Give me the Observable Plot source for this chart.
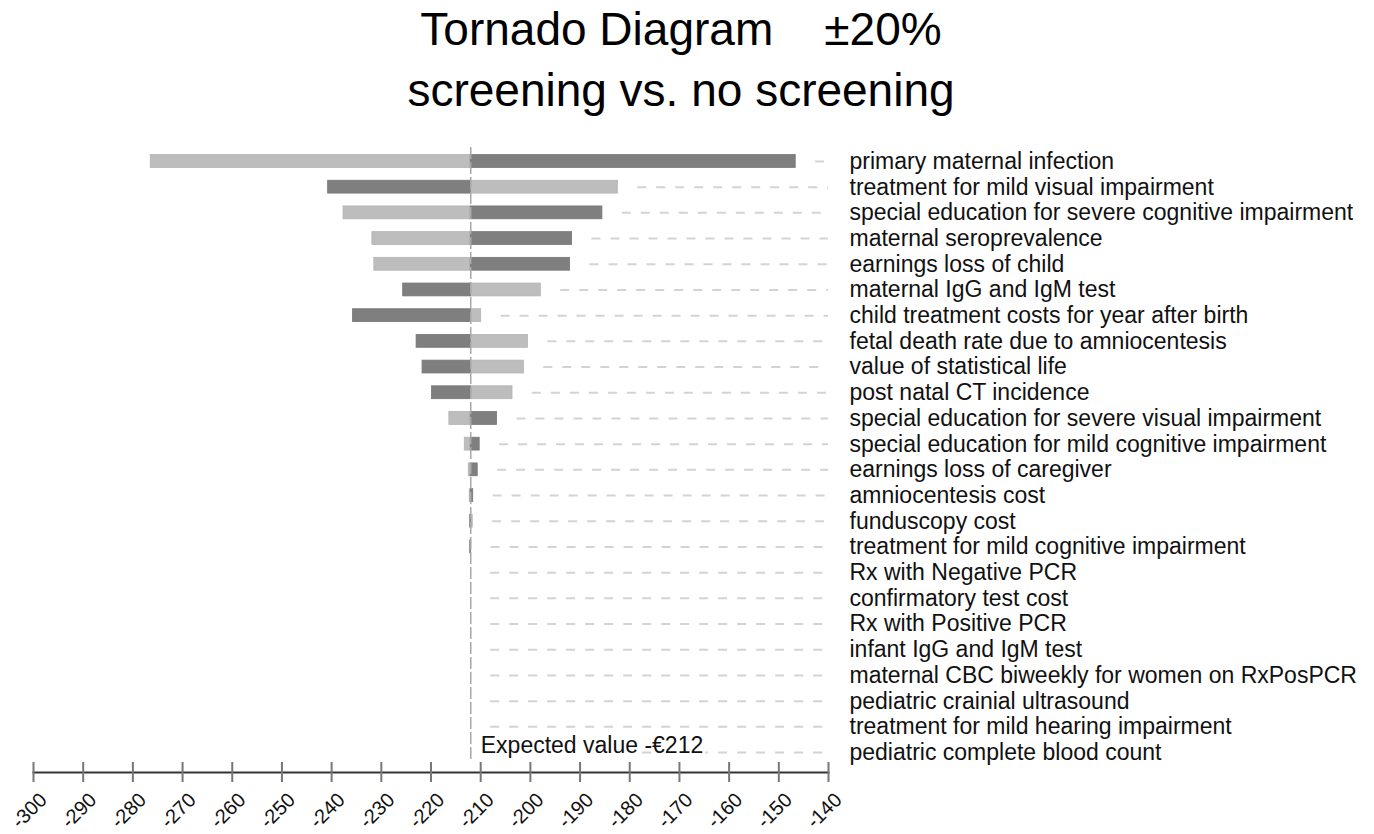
<!DOCTYPE html>
<html><head><meta charset="utf-8">
<script src="https://cdn.jsdelivr.net/npm/d3@7"></script>
<script src="https://cdn.jsdelivr.net/npm/@observablehq/plot@0.6"></script>
<style>
body{margin:0;background:#fff;font-family:"Liberation Sans",Arial,sans-serif;}
#title{position:relative;width:1362px;height:125px;}
#title div{position:absolute;left:0;width:1362px;text-align:center;font-size:46px;line-height:61px;white-space:pre;color:#000}
#chart svg{display:block}
</style></head><body>
<div id="title"><div style="top:-1px">Tornado Diagram    ±20%</div><div style="top:60px">screening vs. no screening</div></div>
<div id="chart"></div>
<script>
const parameters = [
  "primary maternal infection",
  "treatment for mild visual impairment",
  "special education for severe cognitive impairment",
  "maternal seroprevalence",
  "earnings loss of child",
  "maternal IgG and IgM test",
  "child treatment costs for year after birth",
  "fetal death rate due to amniocentesis",
  "value of statistical life",
  "post natal CT incidence",
  "special education for severe visual impairment",
  "special education for mild cognitive impairment",
  "earnings loss of caregiver",
  "amniocentesis cost",
  "funduscopy cost",
  "treatment for mild cognitive impairment",
  "Rx with Negative PCR",
  "confirmatory test cost",
  "Rx with Positive PCR",
  "infant IgG and IgM test",
  "maternal CBC biweekly for women on RxPosPCR",
  "pediatric crainial ultrasound",
  "treatment for mild hearing impairment",
  "pediatric complete blood count"
];
// end value of the light-grey bar and of the dark-grey bar for each parameter
const lightEnd = [-276.4, -182.4, -237.6, -231.8, -231.4, -197.9, -209.9, -200.5, -201.3, -203.6, -216.3, -213.2, -212.4, -212.2, -211.6, -211.9, -212, -212, -212, -212, -212, -212, -212, -212];
const darkEnd  = [-146.6, -240.7, -185.5, -191.6, -192.0, -225.6, -235.7, -222.9, -221.7, -219.8, -206.7, -210.2, -210.6, -211.5, -212.1, -212.1, -212, -212, -212, -212, -212, -212, -212, -212];
const expectedValue = -212;
const expectedLabel = "Expected value -€212";
const xTicks = [-300, -290, -280, -270, -260, -250, -240, -230, -220, -210, -200, -190, -180, -170, -160, -150, -140];

const rows = parameters.map((name, i) => ({name, light: lightEnd[i], dark: darkEnd[i]}));
const evNote = [{label: expectedLabel, x: expectedValue, y: parameters[parameters.length - 1]}];

const plot = Plot.plot({
  width: 1374, height: 709,
  marginLeft: 33, marginRight: 546, marginTop: 22, marginBottom: 62,
  style: {fontFamily: "'Liberation Sans', Arial, sans-serif", background: "#fff", color: "#111"},
  x: {domain: [xTicks[0], xTicks[xTicks.length - 1]], label: null},
  y: {domain: parameters, range: [16.7, 646.3], padding: 0.5, round: false, label: null},
  marks: [
    Plot.ruleY(rows, {y: "name", x1: d => Math.max(d.light, d.dark, expectedValue) + 4, x2: xTicks[xTicks.length - 1], stroke: "#d3d3d3", strokeWidth: 2, strokeDasharray: "9,10"}),
    Plot.barX(rows, {y: "name", x1: expectedValue, x2: "light", fill: "#bdbdbd", stroke: "#b3b3b3", strokeWidth: 0.8}),
    Plot.barX(rows, {y: "name", x1: expectedValue, x2: "dark", fill: "#7f7f7f", stroke: "#777", strokeWidth: 0.8}),
    Plot.ruleX([expectedValue], {stroke: "#a8a8a8", strokeWidth: 1.5, strokeDasharray: "12,3", insetBottom: 10}),
    Plot.text(evNote, {x: "x", y: "y", text: "label", textAnchor: "start", dx: 10, dy: -7, fontSize: 23, fill: "#111", stroke: "white", strokeWidth: 6}),
    Plot.frame({anchor: "bottom", stroke: "#333", strokeWidth: 2}),
    Plot.axisX({ticks: xTicks, tickSize: 20, dy: -10, tickFormat: () => "", stroke: "#777", strokeWidth: 2, label: null}),
    Plot.axisX({ticks: xTicks, tickSize: 0, tickPadding: 24, tickRotate: -45, dx: 10, fontSize: 20, tickFormat: d => String(d), label: null}),
    Plot.axisY({anchor: "right", tickSize: 0, tickPadding: 21, fontSize: 23, label: null})
  ]
});
document.getElementById("chart").appendChild(plot);
</script>
</body></html>
